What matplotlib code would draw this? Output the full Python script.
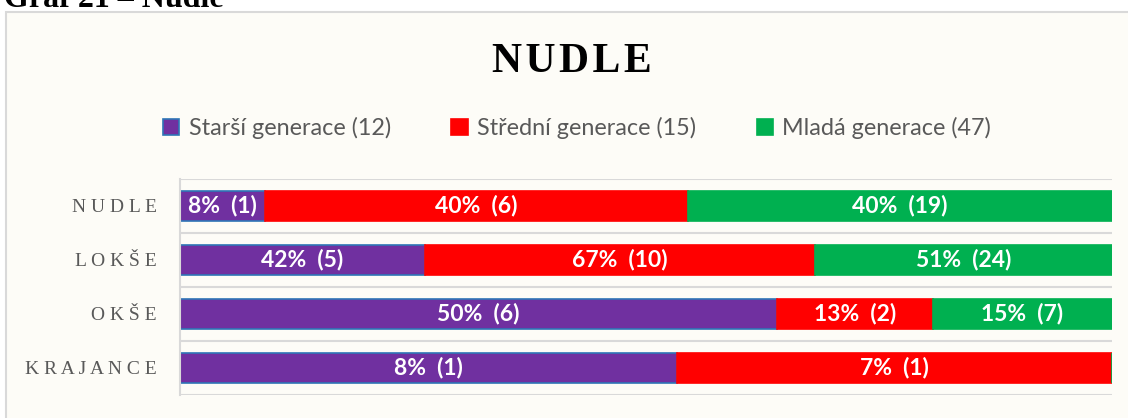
import numpy as np
import matplotlib.pyplot as plt
from matplotlib.patches import Rectangle

# data (percent of each generation, and counts)
categories = ["NUDLE", "LOKŠE", "OKŠE", "KRAJANCE"]
series_names = ["Starší generace (12)", "Střední generace (15)", "Mladá generace (47)"]
starsi_pct = [8, 42, 50, 8]
starsi_n = [1, 5, 6, 1]
stredni_pct = [40, 67, 13, 7]
stredni_n = [6, 10, 2, 1]
mlada_pct = [40, 51, 15, 0]
mlada_n = [19, 24, 7, 0]

colors = ["#7030A0", "#FF0000", "#00B050"]
edges = ["#2E75B6", "#FF0000", "#00B050"]

pct = np.array([starsi_pct, stredni_pct, mlada_pct], dtype=float)
cnt = np.array([starsi_n, stredni_n, mlada_n])
share = pct / pct.sum(axis=0)   # 100% stacked

W, H = 1128, 418
fig = plt.figure(figsize=(W / 100, H / 100), dpi=100)
fig.patch.set_facecolor("white")

# chart area frame
fig.patches.append(Rectangle((6 / W, -0.1), 1.2, (H - 12.5) / H + 0.1, transform=fig.transFigure,
                             facecolor="#FDFCF7", edgecolor="#D9D9D9", lw=1.5, zorder=-5))

# caption above the frame (cut off in the original)
fig.text(4 / W, (H - 7) / H, "Graf 21 – Nudle", family="Liberation Serif", weight="bold",
         fontsize=23, va="baseline", ha="left", color="black")

fig.text(572 / W, (H - 72) / H, "\u200a".join("NUDLE"), family="Liberation Serif", weight="bold",
         fontsize=30, va="baseline", ha="center", color="black")

ax = fig.add_axes([180 / W, (H - 395) / H, (1112 - 180) / W, (395 - 179) / H])
ax.set_facecolor("none")

y = np.arange(len(categories))
left = np.zeros(len(categories))
bars = []
for i in range(3):
    b = ax.barh(y, share[i], left=left, height=0.56, color=colors[i], edgecolor=edges[i],
                linewidth=1.2, label=series_names[i])
    labels = [f"{int(p)}%  ({n})" if p > 0 else "" for p, n in zip(pct[i], cnt[i])]
    ax.bar_label(b, labels=labels, label_type="center", color="white", fontsize=16.5,
                 fontweight="bold", family="Lato")
    bars.append(b)
    left += share[i]

ax.set_xlim(0, 1)
ax.set_ylim(len(categories) - 0.5, -0.5)
ax.set_yticks(y)
ax.set_yticklabels([" ".join(c) for c in categories], family="Liberation Serif",
                   fontsize=14, color="#595959")
ax.set_yticks(np.arange(len(categories) + 1) - 0.5, minor=True)
ax.tick_params(axis="y", which="both", length=0, pad=16.5)
ax.set_xticks([])
ax.grid(axis="y", which="minor", color="#D9D9D9", lw=1.5)
ax.set_axisbelow(True)
for s in ["top", "right", "bottom"]:
    ax.spines[s].set_visible(False)
ax.spines["left"].set_color("#D9D9D9")
ax.spines["left"].set_linewidth(1.5)

leg = fig.legend(handles=bars, labels=series_names, loc="center", ncol=3,
                 bbox_to_anchor=(577 / W, (H - 128) / H), frameon=False,
                 prop={"family": "Lato", "size": 16.8}, handlelength=0.7, handleheight=0.7,
                 handletextpad=0.4, columnspacing=2.6, labelcolor="#595959")

fig.savefig("out.png", dpi=100, facecolor="white")
